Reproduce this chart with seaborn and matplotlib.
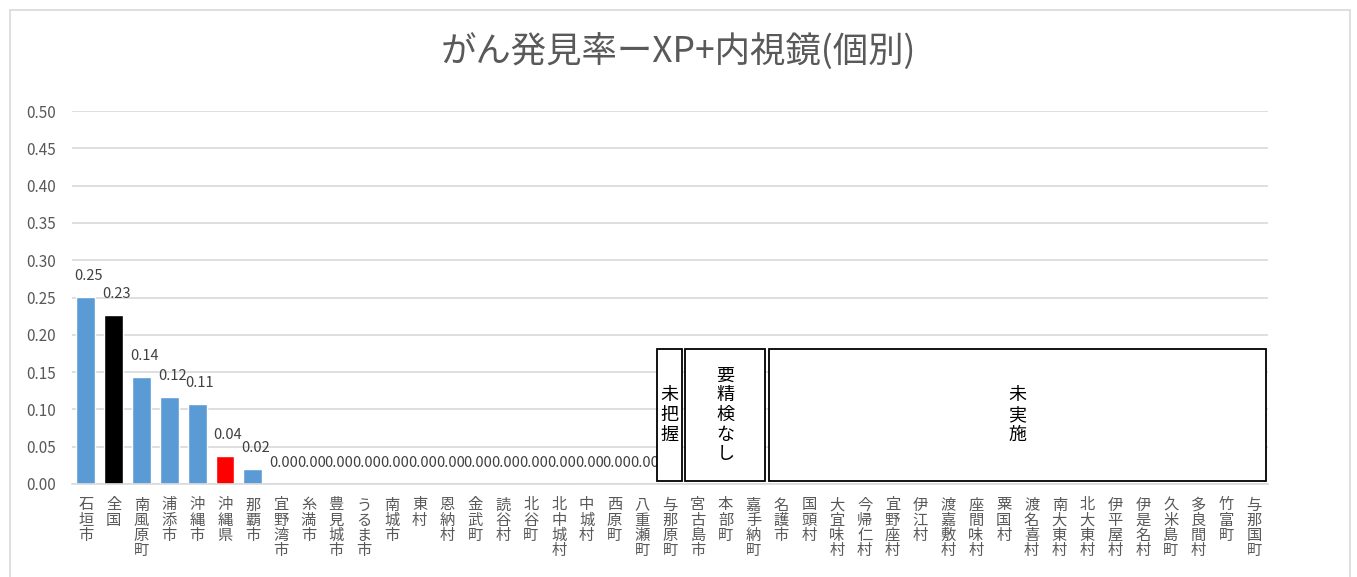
import matplotlib
matplotlib.use("Agg")
import matplotlib.pyplot as plt
import seaborn as sns
import numpy as np
import pandas as pd
from matplotlib.patches import Rectangle

categories = ["石垣市", "全国", "南風原町", "浦添市", "沖縄市", "沖縄県", "那覇市",
              "宜野湾市", "糸満市", "豊見城市", "うるま市", "南城市", "東村", "恩納村",
              "金武町", "読谷村", "北谷町", "北中城村", "中城村", "西原町", "八重瀬町",
              "与那原町", "宮古島市", "本部町", "嘉手納町", "名護市", "国頭村", "大宜味村",
              "今帰仁村", "宜野座村", "伊江村", "渡嘉敷村", "座間味村", "粟国村", "渡名喜村",
              "南大東村", "北大東村", "伊平屋村", "伊是名村", "久米島町", "多良間村",
              "竹富町", "与那国町"]
values = [0.2507, 0.2265, 0.1434, 0.1166, 0.107, 0.0375, 0.020] + [0.0] * 14 + [np.nan] * 22
bar_colors = ["#5B9BD5", "#000000", "#5B9BD5", "#5B9BD5", "#5B9BD5", "#FF0000", "#5B9BD5"] + ["#5B9BD5"] * 36
title = "がん発見率ーXP+内視鏡(個別)"
yticks = [0.00, 0.05, 0.10, 0.15, 0.20, 0.25, 0.30, 0.35, 0.40, 0.45, 0.50]
box_groups = [("未把握", ["与那原町"]),
              ("要精検なし", ["宮古島市", "本部町", "嘉手納町"]),
              ("未実施", categories[25:])]

sns.set_theme(style="white")
plt.rcParams['font.family'] = ['Noto Sans CJK JP', 'DejaVu Sans']

fig = plt.figure(figsize=(13.57, 5.77), dpi=100)
fig.patches.append(Rectangle((10 / 1357, -0.05), 1340 / 1357, 1.05 - 10 / 577,
                             transform=fig.transFigure, fill=False,
                             edgecolor="#d9d9d9", linewidth=1.2))
ax = fig.add_axes([72 / 1357, 93 / 577, 1196 / 1357, 373 / 577])

df = pd.DataFrame({"cat": categories, "val": values})
sns.barplot(data=df, x="cat", y="val", hue="cat", order=categories, hue_order=categories,
            palette=bar_colors, legend=False, width=0.68, ax=ax, saturation=1)

ax.set_ylim(0, 0.5)
ax.set_xlim(-0.5, len(categories) - 0.5)
ax.set_yticks(yticks)
ax.set_yticklabels([f"{v:.2f}" for v in yticks], color="#595959", fontsize=11)
ax.set_xticks(range(len(categories)))
ax.set_xticklabels(["\n".join(c) for c in categories], color="#595959", fontsize=11,
                   linespacing=0.86, va="top")
ax.tick_params(axis="x", length=0, pad=9)
ax.tick_params(axis="y", length=0, pad=33)
for lab in ax.get_yticklabels():
    lab.set_horizontalalignment("left")
ax.grid(axis="y", color="#d9d9d9", linewidth=1.2)
ax.set_axisbelow(True)
for s in ["top", "right", "left"]:
    ax.spines[s].set_visible(False)
ax.spines["bottom"].set_color("#d9d9d9")
ax.spines["bottom"].set_linewidth(1.2)
ax.set_xlabel("")
ax.set_ylabel("")

for i, v in enumerate(values):
    if not np.isnan(v):
        ax.annotate(f"{v:.2f}", (i, v), xytext=(2, 10), textcoords="offset points",
                    ha="center", va="bottom", fontsize=10.5, color="#404040")

idx = {c: i for i, c in enumerate(categories)}
for label, members in box_groups:
    lo = idx[members[0]] - 0.45
    hi = idx[members[-1]] + 0.43
    ax.add_patch(Rectangle((lo, 0.004), hi - lo, 0.177, facecolor="white",
                           edgecolor="black", linewidth=1.3, zorder=5))
    ax.text((lo + hi) / 2, 0.0925, "\n".join(label), ha="center", va="center",
            fontsize=13, color="black", linespacing=1.12, zorder=6)

fig.text(0.5, 1 - 52 / 577, title, ha="center", va="center", fontsize=25.5, color="#595959")

fig.savefig("out.png", dpi=100)
